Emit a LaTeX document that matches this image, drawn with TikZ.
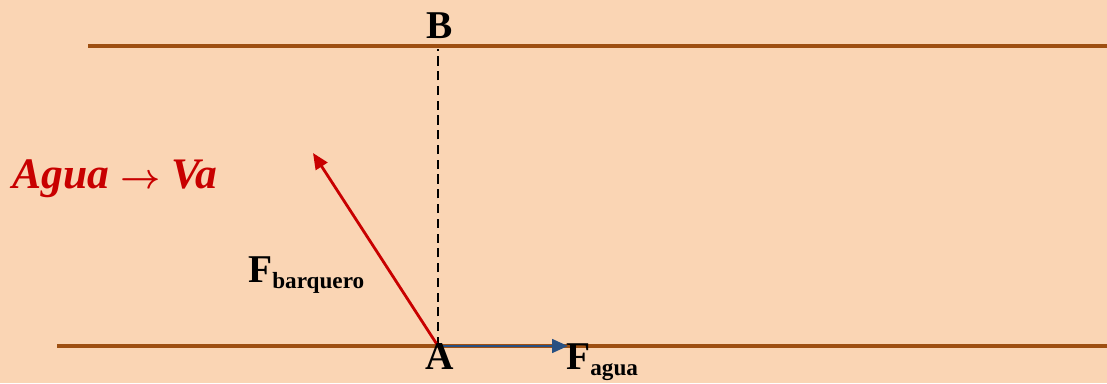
\documentclass[tikz,border=0pt]{standalone}
\usepackage{amsmath}
\usepackage{fontspec}
\setmainfont{Liberation Serif}
\usetikzlibrary{arrows.meta}
\usetikzlibrary{positioning}
\definecolor{fondo}{RGB}{250,213,180}
\definecolor{orilla}{RGB}{158,80,18}
\definecolor{rojo}{RGB}{200,0,0}
\definecolor{azul}{RGB}{40,80,130}
\tikzset{
  orillaline/.style={draw=orilla,line width=2.8pt},
  letra/.style={font=\fontsize{28}{30}\selectfont\bfseries,inner sep=0pt},
  fuerza/.style={line width=2pt,-{Triangle[length=0.4cm,width=0.34cm]}}
}
\newcommand{\fsub}[1]{F\raisebox{-0.16em}{\fontsize{16.5}{18}\selectfont #1}}

\begin{document}
\begin{tikzpicture}
\draw[fill=fondo,draw=none] (0,0) rectangle (27.675,9.575);
\useasboundingbox (0,0) rectangle (27.675,9.575);
% orillas del rio
\coordinate (T1) at (2.2,8.425);
\coordinate (T2) at (27.675,8.425);
\coordinate (S1) at (1.425,0.925);
\coordinate (S2) at (27.675,0.925);
\draw[orillaline] (T1) -- (T2);
\draw[orillaline] (S1) -- (S2);

\coordinate (pA) at (10.95,0.925);
\coordinate (pB) at (10.95,8.35);
\draw[black,line width=1.4pt,dash pattern=on 6.5pt off 4pt] (pA) -- (pB);

% fuerzas
\coordinate (Fb) at (7.825,5.75);
\coordinate (Fa) at (14.2,0.925);
\draw[fuerza,draw=rojo,fill=rojo] (pA) -- (Fb);
\draw[fuerza,draw=azul,fill=azul] (pA) -- (Fa);

\node[letra,anchor=base] (A) at (11.0,0.35) {A};
\node[letra,anchor=base] (B) at (11.0,8.62) {B};
\node[letra,anchor=base west] (labFb) at (6.2,2.525) {\fsub{barquero}};
\node[letra,anchor=base west] (labFa) at (14.15,0.35) {\fsub{agua}};
\node[font=\fontsize{31}{33}\selectfont\bfseries\itshape,text=rojo,anchor=base west,inner sep=0pt] (agua) at (0.3,4.875) {Agua $\boldsymbol{\rightarrow}$ Va};

\end{tikzpicture}
\end{document}
